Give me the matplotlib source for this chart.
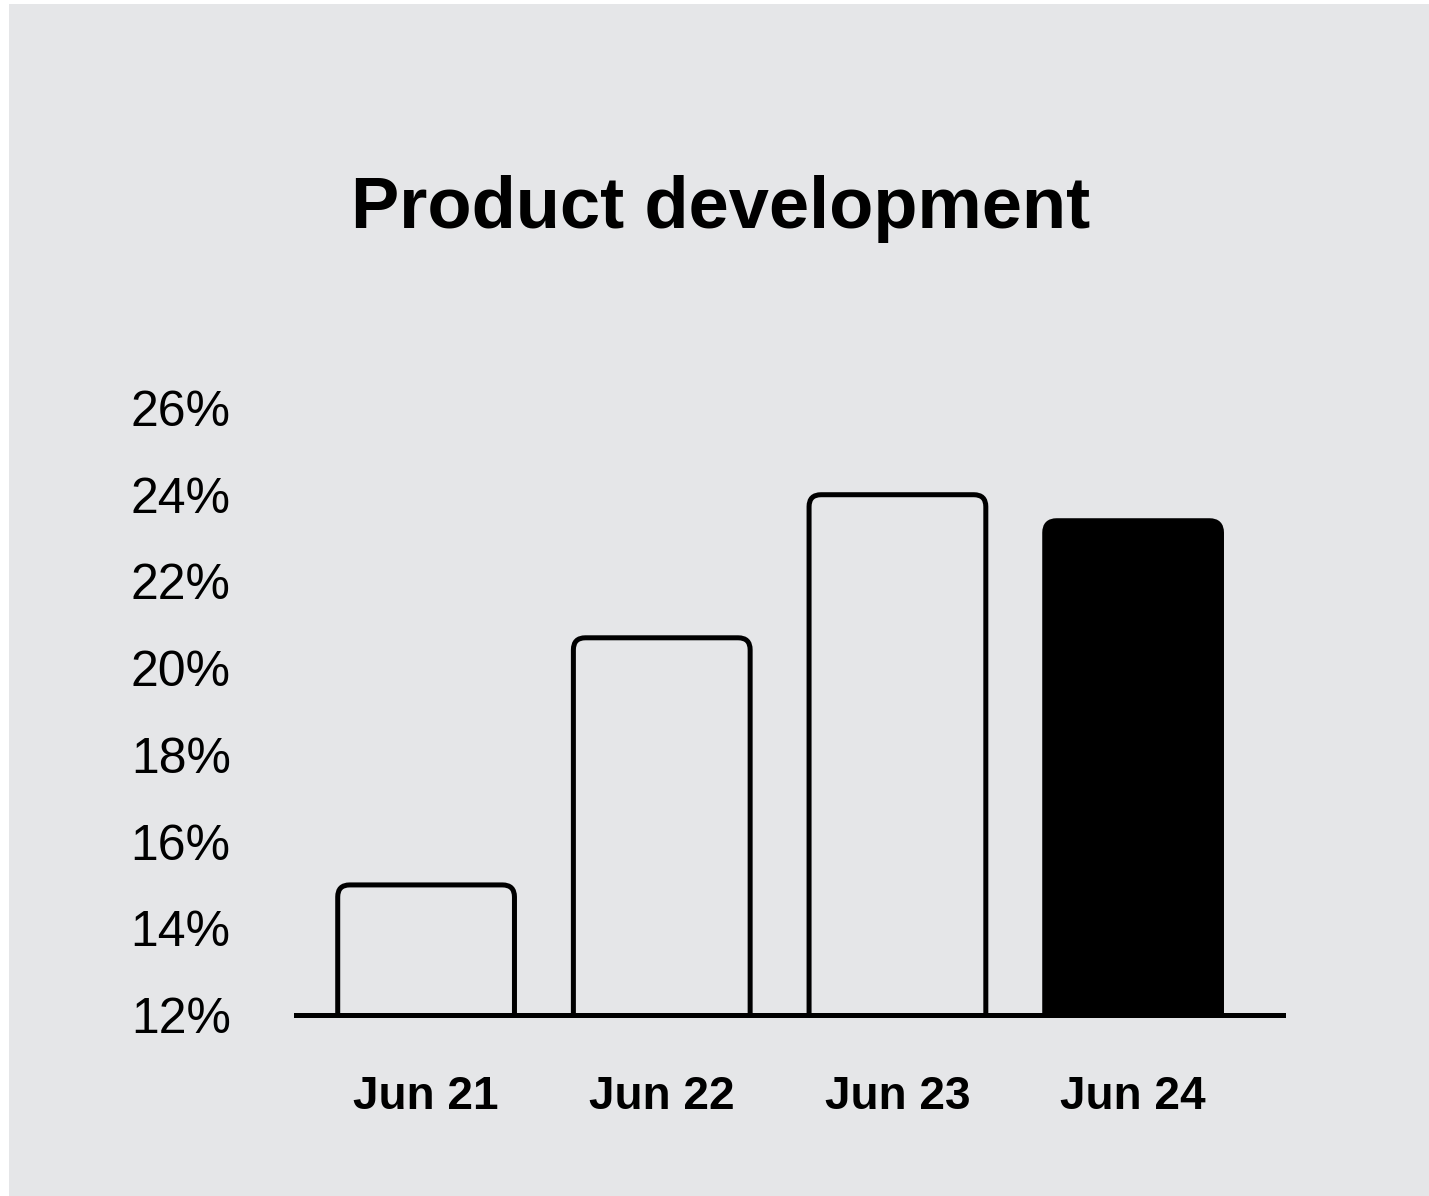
import matplotlib.pyplot as plt
from matplotlib.patches import FancyBboxPatch, Rectangle

# data
periods = ['Jun 21', 'Jun 22', 'Jun 23', 'Jun 24']
shares = [15.0, 20.7, 24.0, 23.4]
highlight = [False, False, False, True]
yticks = [12, 14, 16, 18, 20, 22, 24, 26]

W, H = 1429, 1196
bg = '#e5e6e8'
plt.rcParams['font.family'] = ['Liberation Sans', 'DejaVu Sans']

fig = plt.figure(figsize=(W / 100, H / 100), dpi=100, facecolor='white')
fig.patches.append(Rectangle((9 / W, 0), 1 - 9 / W, 1 - 4 / H,
                             transform=fig.transFigure, facecolor=bg,
                             edgecolor='none', zorder=-5))

ax = fig.add_axes([296 / W, (H - 1015) / H, 987 / W, 607 / H])
ax.set_facecolor('none')
ax.set_xlim(-0.552, 3.636)
ax.set_ylim(12, 26)

# pixels per data unit, used to keep the corner rounding circular
px_x = 987 / (3.636 + 0.552)
px_y = 607 / 14
radius_px = 12
width = 0.75

for i, (v, hl) in enumerate(zip(shares, highlight)):
    bottom = 10
    patch = FancyBboxPatch((i - width / 2, bottom), width, v - bottom,
                           boxstyle=f'round,pad=0,rounding_size={radius_px / px_x}',
                           mutation_aspect=px_x / px_y,
                           facecolor='black' if hl else 'none',
                           edgecolor='black', linewidth=3.6, zorder=2,
                           clip_on=True)
    ax.add_patch(patch)

ax.axhline(12, color='black', linewidth=3.6, zorder=3, clip_on=False)

for s in ax.spines.values():
    s.set_visible(False)
ax.set_yticks(yticks)
ax.set_yticklabels([f'{t}%' for t in yticks], fontsize=36)
ax.set_xticks(range(len(periods)))
ax.set_xticklabels(periods, fontsize=33, fontweight='bold')
ax.tick_params(axis='both', length=0)
ax.tick_params(axis='y', pad=47)
ax.tick_params(axis='x', pad=43)

fig.text(721 / W, 1 - 228 / H, 'Product development', ha='center',
         va='baseline', fontsize=52, fontweight='bold')

fig.savefig('out.png', dpi=100, facecolor='white')
